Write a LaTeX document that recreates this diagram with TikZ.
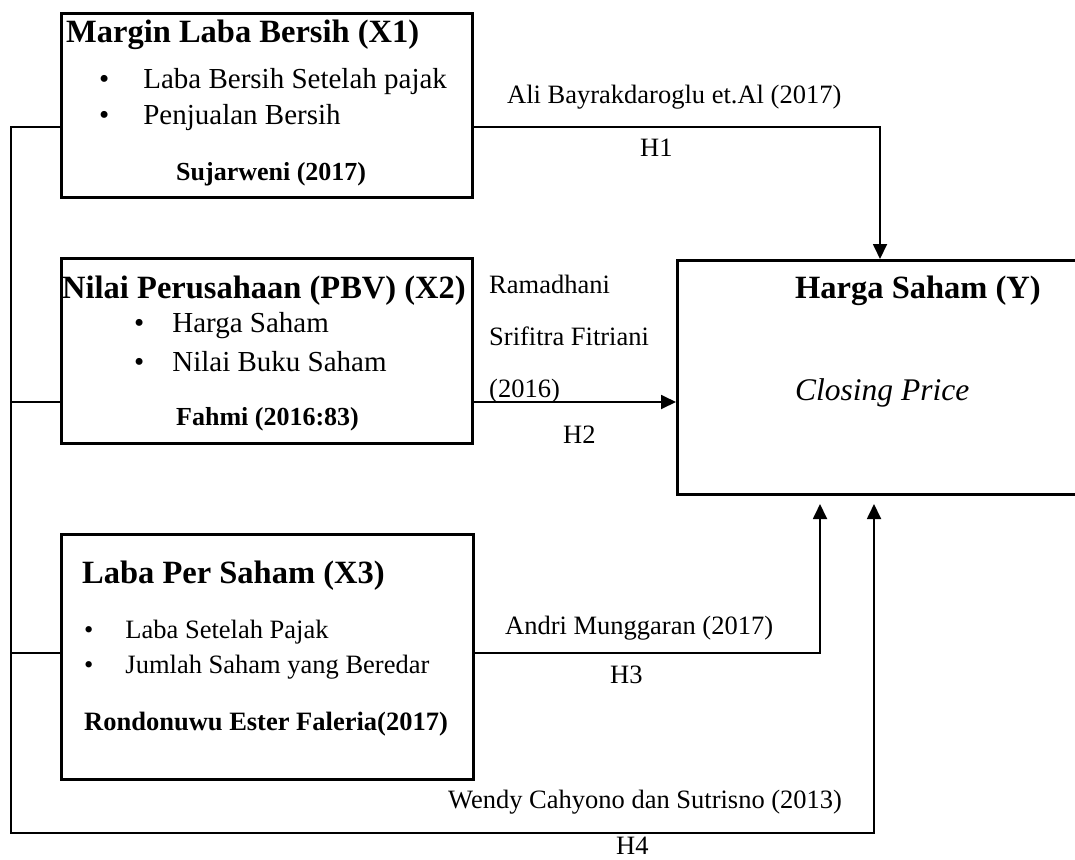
\documentclass[tikz,border=0pt]{standalone}
\usepackage{fontspec}
\setmainfont{Liberation Serif}
\usetikzlibrary{arrows.meta}

\newcommand{\butir}[2]{\textbullet\hspace{#1}#2}

\begin{document}
\begin{tikzpicture}[x=1pt,y=-1pt,>={Triangle[length=15pt,width=14pt]},
box/.style={draw,line width=3pt,inner sep=0pt,anchor=north west},
line/.style={line width=1.8pt},
txt/.style={inner sep=0pt,anchor=base west},
judul/.style={txt,font=\fontsize{32.5}{38}\selectfont\bfseries},
isi/.style={txt,font=\fontsize{29}{34}\selectfont},
isikecil/.style={txt,font=\fontsize{26.5}{31}\selectfont},
kutip/.style={txt,font=\fontsize{26}{31}\selectfont\bfseries},
ket/.style={txt,font=\fontsize{26.5}{31}\selectfont}]

\useasboundingbox (0,0) rectangle (1075,859);

% kotak variabel
\node[box,minimum width=411pt,minimum height=184pt] (x1) at (60,12) {};
\node[box,minimum width=411pt,minimum height=185pt] (x2) at (60,257) {};
\node[box,minimum width=412pt,minimum height=245pt] (x3) at (60,533) {};
\node[box,minimum width=420pt,minimum height=234pt] (y) at (676,259) {};

% isi X1
\node[judul] (j1) at (66,43) {Margin Laba Bersih (X1)};
\node[isi] (b11) at (99,88) {\butir{34pt}{Laba Bersih Setelah pajak}};
\node[isi] (b12) at (99,124) {\butir{34pt}{Penjualan Bersih}};
\node[kutip] (s1) at (176,180) {Sujarweni (2017)};

% isi X2
\node[judul] (j2) at (62,298) {Nilai Perusahaan (PBV) (X2)};
\node[isi] (b21) at (134,332) {\butir{28pt}{Harga Saham}};
\node[isi] (b22) at (134,371) {\butir{28pt}{Nilai Buku Saham}};
\node[kutip] (s2) at (176,425) {Fahmi (2016:83)};

% isi X3
\node[judul] (j3) at (82,583) {Laba Per Saham (X3)};
\node[isikecil] (b31) at (84,638) {\butir{32pt}{Laba Setelah Pajak}};
\node[isikecil] (b32) at (84,673) {\butir{32pt}{Jumlah Saham yang Beredar}};
\node[kutip,font=\fontsize{26.5}{31}\selectfont\bfseries] (s3) at (84,730) {Rondonuwu Ester Faleria(2017)};

% isi Y
\node[judul] (jy) at (795,298) {Harga Saham (Y)};
\node[txt,font=\fontsize{31.5}{37}\selectfont\itshape] (cp) at (795,400) {Closing Price};

% keterangan garis
\node[ket] (l1) at (507,103) {Ali Bayrakdaroglu et.Al (2017)};
\node[ket] (h1) at (640,156) {H1};
\node[ket] (l2a) at (489,293) {Ramadhani};
\node[ket] (l2b) at (489,345) {Srifitra Fitriani};
\node[ket] (l2c) at (489,397) {(2016)};
\node[ket] (h2) at (563,443) {H2};
\node[ket] (l3) at (505,634) {Andri Munggaran (2017)};
\node[ket] (h3) at (610,683) {H3};
\node[ket] (l4) at (448,808) {Wendy Cahyono dan Sutrisno (2013)};
\node[ket] (h4) at (616,854) {H4};

% titik belok
\coordinate (kiri) at (11,127);
\coordinate (k1) at (880,127);
\coordinate (k2) at (11,402);
\coordinate (k3) at (11,653);
\coordinate (b3) at (820,653);
\coordinate (bawah) at (11,833);
\coordinate (b4) at (874,833);

% garis hipotesis
\draw[line,->] (x1.east |- k1) -- (k1) -- (y.north -| k1);
\draw[line] (k2) -- (x2.west |- k2);
\draw[line,->] (x2.east |- k2) -- (y.west |- k2);
\draw[line] (k3) -- (x3.west |- k3);
\draw[line,->,shorten >=8pt] (x3.east |- b3) -- (b3) -- (y.south -| b3);
\draw[line,->,shorten >=8pt] (x1.west |- kiri) -- (kiri) -- (bawah) -- (b4) -- (y.south -| b4);

\end{tikzpicture}
\end{document}
